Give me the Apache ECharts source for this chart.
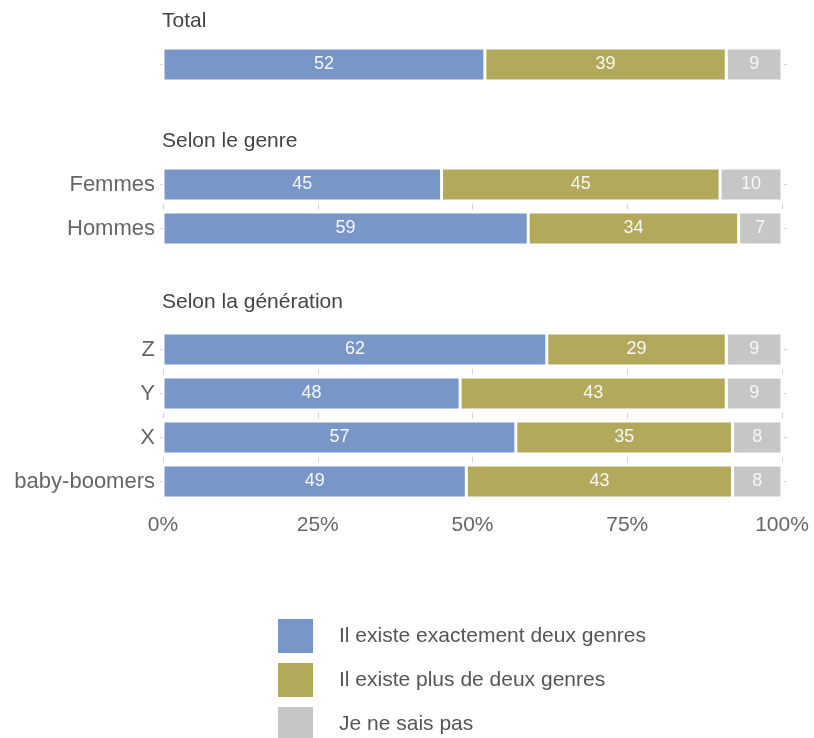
<!DOCTYPE html>
<html><head><meta charset="utf-8">
<script src="https://cdn.jsdelivr.net/npm/echarts@6/dist/echarts.min.js"></script>
<style>html,body{margin:0;padding:0;background:#fff}#c{width:814px;height:738px}</style>
</head><body><div id="c"></div>
<script>
const seriesNames = ['Il existe exactement deux genres', 'Il existe plus de deux genres', 'Je ne sais pas'];
const colors = ['#7896C8', '#B3A95A', '#C6C6C6'];
const facetTitles = ['Total', 'Selon le genre', 'Selon la génération'];
const totalCats = [''];
const totalDeux = [52], totalPlus = [39], totalNsp = [9];
const genreCats = ['Femmes', 'Hommes'];
const genreDeux = [45, 59], genrePlus = [45, 34], genreNsp = [10, 7];
const genCats = ['Z', 'Y', 'X', 'baby-boomers'];
const genDeux = [62, 48, 57, 49], genPlus = [29, 43, 35, 43], genNsp = [9, 9, 8, 8];
const xTicks = [0, 25, 50, 75, 100];

const FONT = "'Liberation Sans', Arial, sans-serif";
const ROW = 44;
const facets = [
  {cats: totalCats, vals: [totalDeux, totalPlus, totalNsp], top: 42.5, titleY: 23},
  {cats: genreCats, vals: [genreDeux, genrePlus, genreNsp], top: 162.5, titleY: 143},
  {cats: genCats, vals: [genDeux, genPlus, genNsp], top: 327.5, titleY: 304}
];
// dash pattern so that short grid ticks only appear in the gaps between rows
function gapDash(n) {
  const d = [0, ROW - 3];
  for (let r = 1; r < n; r++) { d.push(6); d.push(r < n - 1 ? ROW - 6 : 1000); }
  return d;
}
const grids = [], xAxes = [], yAxes = [], yAxesRight = [], series = [], graphics = [];
const tickStyle = {show: true, alignWithLabel: true, length: 3, lineStyle: {color: '#d8d8d8'}};
facets.forEach((f, i) => {
  const n = f.cats.length;
  grids.push({left: 163, right: 32, top: f.top, height: ROW * n, containLabel: false});
  xAxes.push({
    type: 'value', gridIndex: i, min: xTicks[0], max: xTicks[xTicks.length - 1], interval: 25,
    axisLine: {show: false}, axisTick: {show: false},
    axisLabel: {show: i === 2, formatter: v => v + '%', fontSize: 21, color: '#666', fontFamily: FONT, margin: 11},
    splitLine: {show: n > 1, lineStyle: {color: '#d4d4d4', width: 1, type: gapDash(n)}}
  });
  yAxes.push({
    type: 'category', gridIndex: i, data: f.cats, inverse: true,
    axisLine: {show: false}, axisTick: tickStyle,
    axisLabel: {fontSize: 22, color: '#666', fontFamily: FONT, margin: 8}
  });
  yAxesRight.push({
    type: 'category', gridIndex: i, data: f.cats, inverse: true, position: 'right', offset: 2,
    axisLine: {show: false}, axisTick: tickStyle, axisLabel: {show: false}
  });
  f.vals.forEach((v, k) => {
    series.push({
      type: 'bar', name: seriesNames[k], stack: 's' + i, xAxisIndex: i, yAxisIndex: i,
      data: v, barWidth: 33,
      itemStyle: {color: colors[k], borderColor: '#fff', borderWidth: 1.5},
      label: {show: true, position: 'inside', color: '#f7f7f7', fontSize: 18, fontFamily: FONT, formatter: '{c}'},
      emphasis: {disabled: true}
    });
  });
  graphics.push({type: 'text', left: 162, top: f.titleY - 12,
    style: {text: facetTitles[i], fontSize: 21, fill: '#444', fontFamily: FONT}});
});

const chart = echarts.init(document.getElementById('c'), null, {renderer: 'canvas'});
chart.setOption({
  animation: false,
  color: colors,
  grid: grids, xAxis: xAxes, yAxis: yAxes.concat(yAxesRight), series: series,
  graphic: graphics,
  legend: {
    data: seriesNames, orient: 'vertical', left: 276, top: 617, height: 200, padding: 0,
    itemWidth: 37, itemHeight: 36, itemGap: 6, icon: 'rect',
    selectedMode: false,
    textStyle: {fontSize: 21, color: '#555', fontFamily: FONT, padding: [0, 0, 0, 20]}
  }
});
</script></body></html>
